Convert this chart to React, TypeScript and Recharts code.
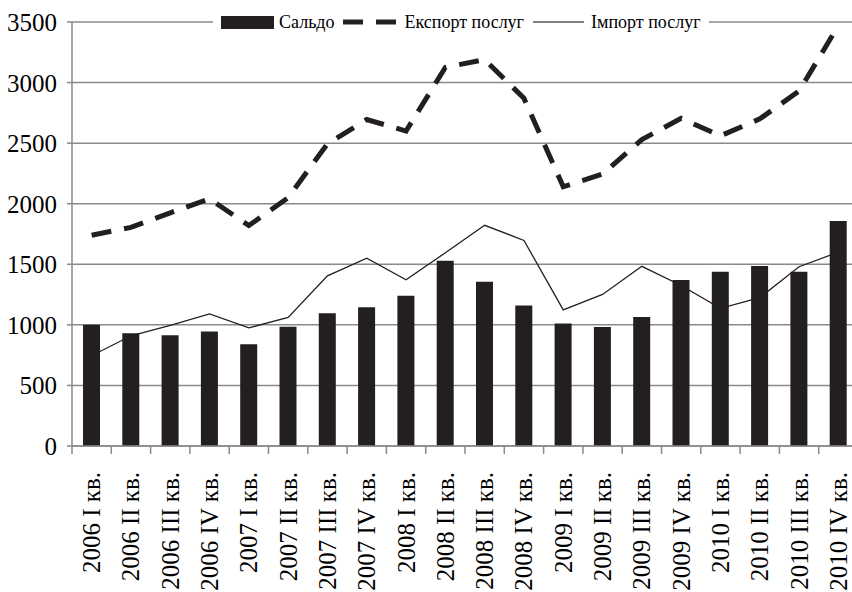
import { ComposedChart, Bar, Line, XAxis, YAxis, CartesianGrid, Legend } from "recharts"

const FONT = '"Liberation Serif", "Times New Roman", serif'
const INK = "#231f20"
const GRID = "#8a8a8a"

const quarters = [
  "2006 I кв.", "2006 II кв.", "2006 III кв.", "2006 IV кв.",
  "2007 I кв.", "2007 II кв.", "2007 III кв.", "2007 IV кв.",
  "2008 I кв.", "2008 II кв.", "2008 III кв.", "2008 IV кв.",
  "2009 I кв.", "2009 II кв.", "2009 III кв.", "2009 IV кв.",
  "2010 I кв.", "2010 II кв.", "2010 III кв.", "2010 IV кв.",
]

const saldo = [1000, 930, 915, 945, 840, 985, 1095, 1145, 1240, 1530, 1355, 1160, 1012, 982, 1065, 1370, 1438, 1485, 1438, 1858]
const exportServices = [1740, 1805, 1925, 2040, 1820, 2050, 2495, 2695, 2600, 3125, 3190, 2870, 2140, 2245, 2530, 2705, 2560, 2700, 2930, 3470]
const importServices = [745, 910, 995, 1090, 975, 1062, 1405, 1550, 1372, 1595, 1822, 1697, 1124, 1251, 1483, 1325, 1136, 1225, 1480, 1600]

const yTicks = [0, 500, 1000, 1500, 2000, 2500, 3000, 3500]

const data = quarters.map((q, i) => ({
  q,
  saldo: saldo[i],
  exp: exportServices[i],
  imp: importServices[i],
}))

function QuarterTick(props: any) {
  const { x, y, payload, index, width } = props
  const half = payload?.offset || (width ? width / quarters.length / 2 : 19.65)
  const axisY = y - 10
  const ty = y + 16
  return (
    <g>
      <line x1={x - half} y1={axisY} x2={x - half} y2={axisY + 8} stroke={GRID} strokeWidth={1.5} />
      {index === quarters.length - 1 && (
        <line x1={x + half} y1={axisY} x2={x + half} y2={axisY + 8} stroke={GRID} strokeWidth={1.5} />
      )}
      <text
        x={x}
        y={ty}
        transform={`rotate(-90, ${x}, ${ty})`}
        textAnchor="end"
        dominantBaseline="central"
        fontFamily={FONT}
        fontSize={25}
        fill="#000"
      >
        {payload.value}
      </text>
    </g>
  )
}

function ValueTick(props: any) {
  const { x, y, payload } = props
  return (
    <text x={x} y={y} dy="0.36em" textAnchor="end" fontFamily={FONT} fontSize={25} fill="#000">
      {payload.value}
    </text>
  )
}

function LegendBox() {
  return (
    <div
      style={{
        display: "flex",
        alignItems: "center",
        background: "#fff",
        padding: "0 8px",
        height: 24,
        fontFamily: FONT,
        fontSize: 18,
        color: "#000",
        whiteSpace: "nowrap",
      }}
    >
      <span style={{ display: "inline-block", width: 53, height: 13, background: INK }} />
      <span style={{ marginLeft: 5 }}>Сальдо</span>
      <svg width={55} height={10} style={{ marginLeft: 8 }}>
        <line x1={0} y1={5} x2={55} y2={5} stroke={INK} strokeWidth={5} strokeDasharray="20 13" />
      </svg>
      <span style={{ marginLeft: 7 }}>Експорт послуг</span>
      <svg width={51} height={10} style={{ marginLeft: 9 }}>
        <line x1={0} y1={5} x2={51} y2={5} stroke="#555" strokeWidth={1.3} />
      </svg>
      <span style={{ marginLeft: 7 }}>Імпорт послуг</span>
    </div>
  )
}

export default function App() {
  return (
    <div
      style={{
        position: "absolute",
        left: 0,
        top: 0,
        width: 852,
        height: 592,
        overflow: "hidden",
        background: "#fff",
        fontFamily: FONT,
      }}
    >
      <ComposedChart width={858} height={592} data={data} margin={{ top: 22, right: 0, left: 0, bottom: 0 }}>
        <CartesianGrid vertical={false} stroke={GRID} strokeWidth={1.5} />
        <XAxis
          dataKey="q"
          interval={0}
          height={146}
          tickLine={false}
          tickSize={8}
          axisLine={{ stroke: GRID, strokeWidth: 1.5 }}
          tick={<QuarterTick />}
        />
        <YAxis
          domain={[0, 3500]}
          ticks={yTicks}
          width={72}
          tickSize={5}
          tickMargin={10}
          axisLine={{ stroke: GRID, strokeWidth: 1.5 }}
          tickLine={{ stroke: GRID, strokeWidth: 1.5 }}
          tick={<ValueTick />}
        />
        <Legend
          verticalAlign="middle"
          align="center"
          wrapperStyle={{ left: 213, top: 10, width: "auto" }}
          content={<LegendBox />}
        />
        <Line
          dataKey="imp"
          name="Імпорт послуг"
          stroke={INK}
          strokeWidth={1.3}
          dot={false}
          isAnimationActive={false}
        />
        <Line
          dataKey="exp"
          name="Експорт послуг"
          stroke={INK}
          strokeWidth={5}
          strokeDasharray="20 13"
          dot={false}
          isAnimationActive={false}
        />
        <Bar dataKey="saldo" name="Сальдо" fill={INK} barSize={17} zIndex={450} isAnimationActive={false} />
      </ComposedChart>
    </div>
  )
}
